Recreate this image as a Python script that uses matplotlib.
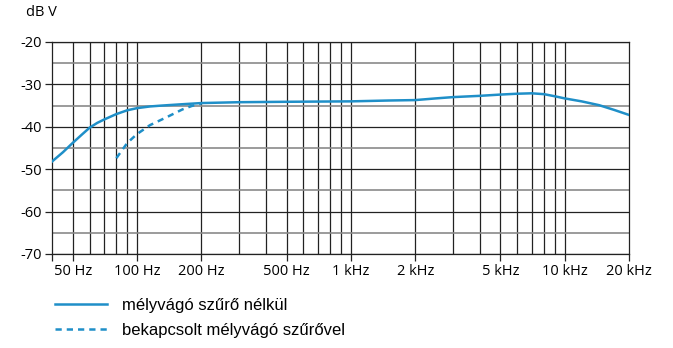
import numpy as np
import matplotlib.pyplot as plt

# frekvencia-átvitel, leolvasva az ábráról
freq_ki = [40, 45, 50, 55, 60, 65, 70, 80, 90, 100, 115, 130, 160, 200, 300, 500, 1000,
           1500, 2000, 2500, 3000, 4000, 5000, 6000, 7000, 8000, 9000, 10000, 12000,
           14500, 17000, 20000]
db_ki = [-48.2, -46.0, -43.8, -41.9, -40.2, -39.1, -38.3, -37.0, -36.1, -35.6, -35.2,
         -35.0, -34.7, -34.4, -34.2, -34.1, -34.0, -33.8, -33.7, -33.3, -33.0, -32.7,
         -32.4, -32.2, -32.1, -32.3, -32.8, -33.3, -34.0, -34.9, -36.0, -37.2]

freq_be = [80, 90, 100, 115, 138, 163, 180, 200]
db_be = [-47.4, -43.8, -41.7, -39.6, -37.7, -35.9, -35.1, -34.5]

x_ticks = [40, 50, 100, 200, 500, 1000, 2000, 5000, 10000, 20000]
x_labels = ['', '50 Hz', '100 Hz', '200 Hz', '500 Hz', '1 kHz', '2 kHz', '5 kHz', '10 kHz', '20 kHz']
x_grid = [50, 60, 70, 80, 90, 100, 200, 300, 400, 500, 600, 700, 800, 900, 1000,
          2000, 3000, 4000, 5000, 6000, 7000, 8000, 9000, 10000]
y_ticks = [-20, -30, -40, -50, -60, -70]
y_minor = [-25, -35, -45, -55, -65]

szin = '#1f8fc8'

fig = plt.figure(figsize=(6.73, 3.48), dpi=100)
ax = fig.add_axes([52/673, 94/348, 577/673, 212/348])

for f in x_grid:
    ax.axvline(f, color='#222222', lw=0.9, zorder=1)
for y in y_ticks:
    ax.axhline(y, color='#222222', lw=0.9, zorder=1)
for y in y_minor:
    ax.axhline(y, color='#8a8a8a', lw=1.2, zorder=1)

ax.plot(freq_ki, db_ki, color=szin, lw=1.8, zorder=3, label='mélyvágó szűrő nélkül')
ax.plot(freq_be, db_be, color=szin, lw=1.8, ls=(0, (2.5, 2)), zorder=3,
        label='bekapcsolt mélyvágó szűrővel')

ax.set_xscale('log')
ax.set_xlim(40, 20000)
ax.set_ylim(-70, -20)
ax.set_xticks(x_ticks)
ax.set_xticklabels(x_labels)
ax.minorticks_off()
ax.set_yticks(y_ticks)
ax.set_yticklabels([str(v) for v in y_ticks])
ax.tick_params(axis='both', length=5, width=0.9, color='#222222', labelsize=10.5, pad=2)
for lab in ax.get_xticklabels() + ax.get_yticklabels():
    lab.set_fontfamily('Open Sans')
for s in ax.spines.values():
    s.set_color('#222222')
    s.set_linewidth(0.9)

fig.text(26/673, 1 - 13/348, 'dB V', fontsize=10.5, family='Open Sans', va='center')

leg = fig.legend(loc='upper left', bbox_to_anchor=(40/673, 1 - 283/348), frameon=False,
                 prop={'family': 'Liberation Sans', 'size': 12}, handlelength=3.1,
                 handletextpad=0.9, labelspacing=0.6)

fig.savefig('out.png', dpi=100)
